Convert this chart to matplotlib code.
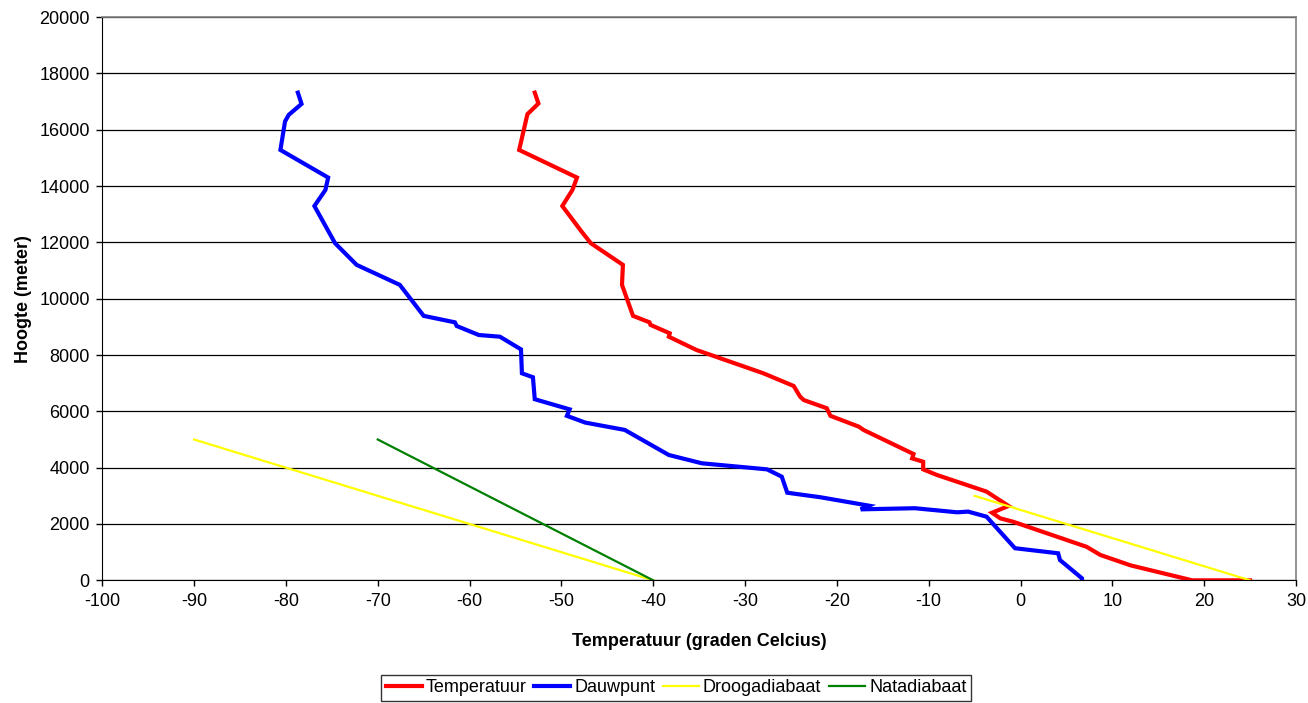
import matplotlib
matplotlib.use("Agg")
import matplotlib.pyplot as plt

plt.rcParams['font.family'] = ['Liberation Sans', 'DejaVu Sans']
plt.rcParams['axes.unicode_minus'] = False

# temperatuur profiel (graden C, meter)
temp_t = [-52.9, -52.5, -53.7, -54.6, -48.3, -48.8, -49.9, -47.8, -46.8, -43.3, -43.4,
          -42.2, -40.4, -40.3, -38.2, -38.3, -35.3, -28.0, -24.7, -24.0, -23.6, -21.1,
          -20.7, -17.6, -17.1, -11.65, -11.8, -10.6, -10.6, -9.1, -3.7, -1.3, -3.1,
          -2.2, -0.8, 7.2, 8.7, 12.0, 18.7, 25.0]
temp_h = [17315, 16930, 16550, 15280, 14300, 13860, 13290, 12380, 11970, 11200, 10490,
          9390, 9160, 9070, 8770, 8650, 8180, 7350, 6900, 6520, 6400, 6110,
          5840, 5455, 5340, 4485, 4330, 4210, 3940, 3740, 3150, 2640, 2400,
          2200, 2080, 1190, 900, 530, 0, 0]

dauw_t = [-78.7, -78.3, -79.7, -80.1, -80.6, -75.4, -75.7, -76.9, -74.65, -72.3, -67.6,
          -65.0, -61.6, -61.4, -59.0, -56.7, -54.4, -54.3, -53.1, -52.9, -49.1, -49.4,
          -47.4, -43.1, -38.3, -34.7, -27.6, -26.0, -25.4, -21.8, -16.5, -17.4, -11.5,
          -6.9, -5.7, -3.7, -0.6, 4.1, 4.3, 6.7, 6.7]
dauw_h = [17315, 16915, 16525, 16290, 15280, 14300, 13860, 13290, 11970, 11200, 10490,
          9390, 9160, 9030, 8710, 8650, 8200, 7350, 7210, 6430, 6070, 5840,
          5600, 5340, 4450, 4155, 3940, 3680, 3110, 2950, 2650, 2520, 2560,
          2415, 2440, 2260, 1140, 960, 720, 70, 0]

droog1_t = [-90, -40]
droog1_h = [5000, 0]
droog2_t = [-5, 25]
droog2_h = [3000, 0]
nat_t = [-70, -40]
nat_h = [5000, 0]

fig = plt.figure(figsize=(13.08, 7.03), dpi=100)
ax = fig.add_axes([0.0782, 0.1745, 0.9126, 0.8013])

ax.plot(temp_t, temp_h, color='#ff0000', lw=3, label='Temperatuur', solid_joinstyle='miter')
ax.plot(dauw_t, dauw_h, color='#0000ff', lw=3, label='Dauwpunt', solid_joinstyle='miter')
ax.plot(droog1_t, droog1_h, color='#ffff00', lw=1.6, label='Droogadiabaat')
ax.plot(droog2_t, droog2_h, color='#ffff00', lw=1.6)
ax.plot(nat_t, nat_h, color='#008000', lw=1.6, label='Natadiabaat')

ax.set_xlim(-100, 30)
ax.set_ylim(0, 20000)
ax.set_xticks(range(-100, 31, 10))
ax.set_yticks(range(0, 20001, 2000))
ax.grid(True, axis='y', color='#000000', lw=0.9)
ax.set_axisbelow(True)
ax.tick_params(direction='out', length=4, width=1, labelsize=13, colors='black', pad=5)
for s in ['right', 'top']:
    ax.spines[s].set_color('#808080')
    ax.spines[s].set_linewidth(1.2)

ax.set_xlabel('Temperatuur (graden Celcius)', fontsize=13, fontweight='bold', labelpad=17)
ax.set_ylabel('Hoogte (meter)', fontsize=13, fontweight='bold', labelpad=5)

leg = fig.legend(loc='center', bbox_to_anchor=(676 / 1308, 0.0215), ncol=4,
                 fontsize=13, frameon=True, fancybox=False, edgecolor='black',
                 handlelength=2.0, handletextpad=0.2, columnspacing=0.45,
                 borderpad=0.25)
leg.get_frame().set_linewidth(1)

fig.savefig('out.png', dpi=100)
